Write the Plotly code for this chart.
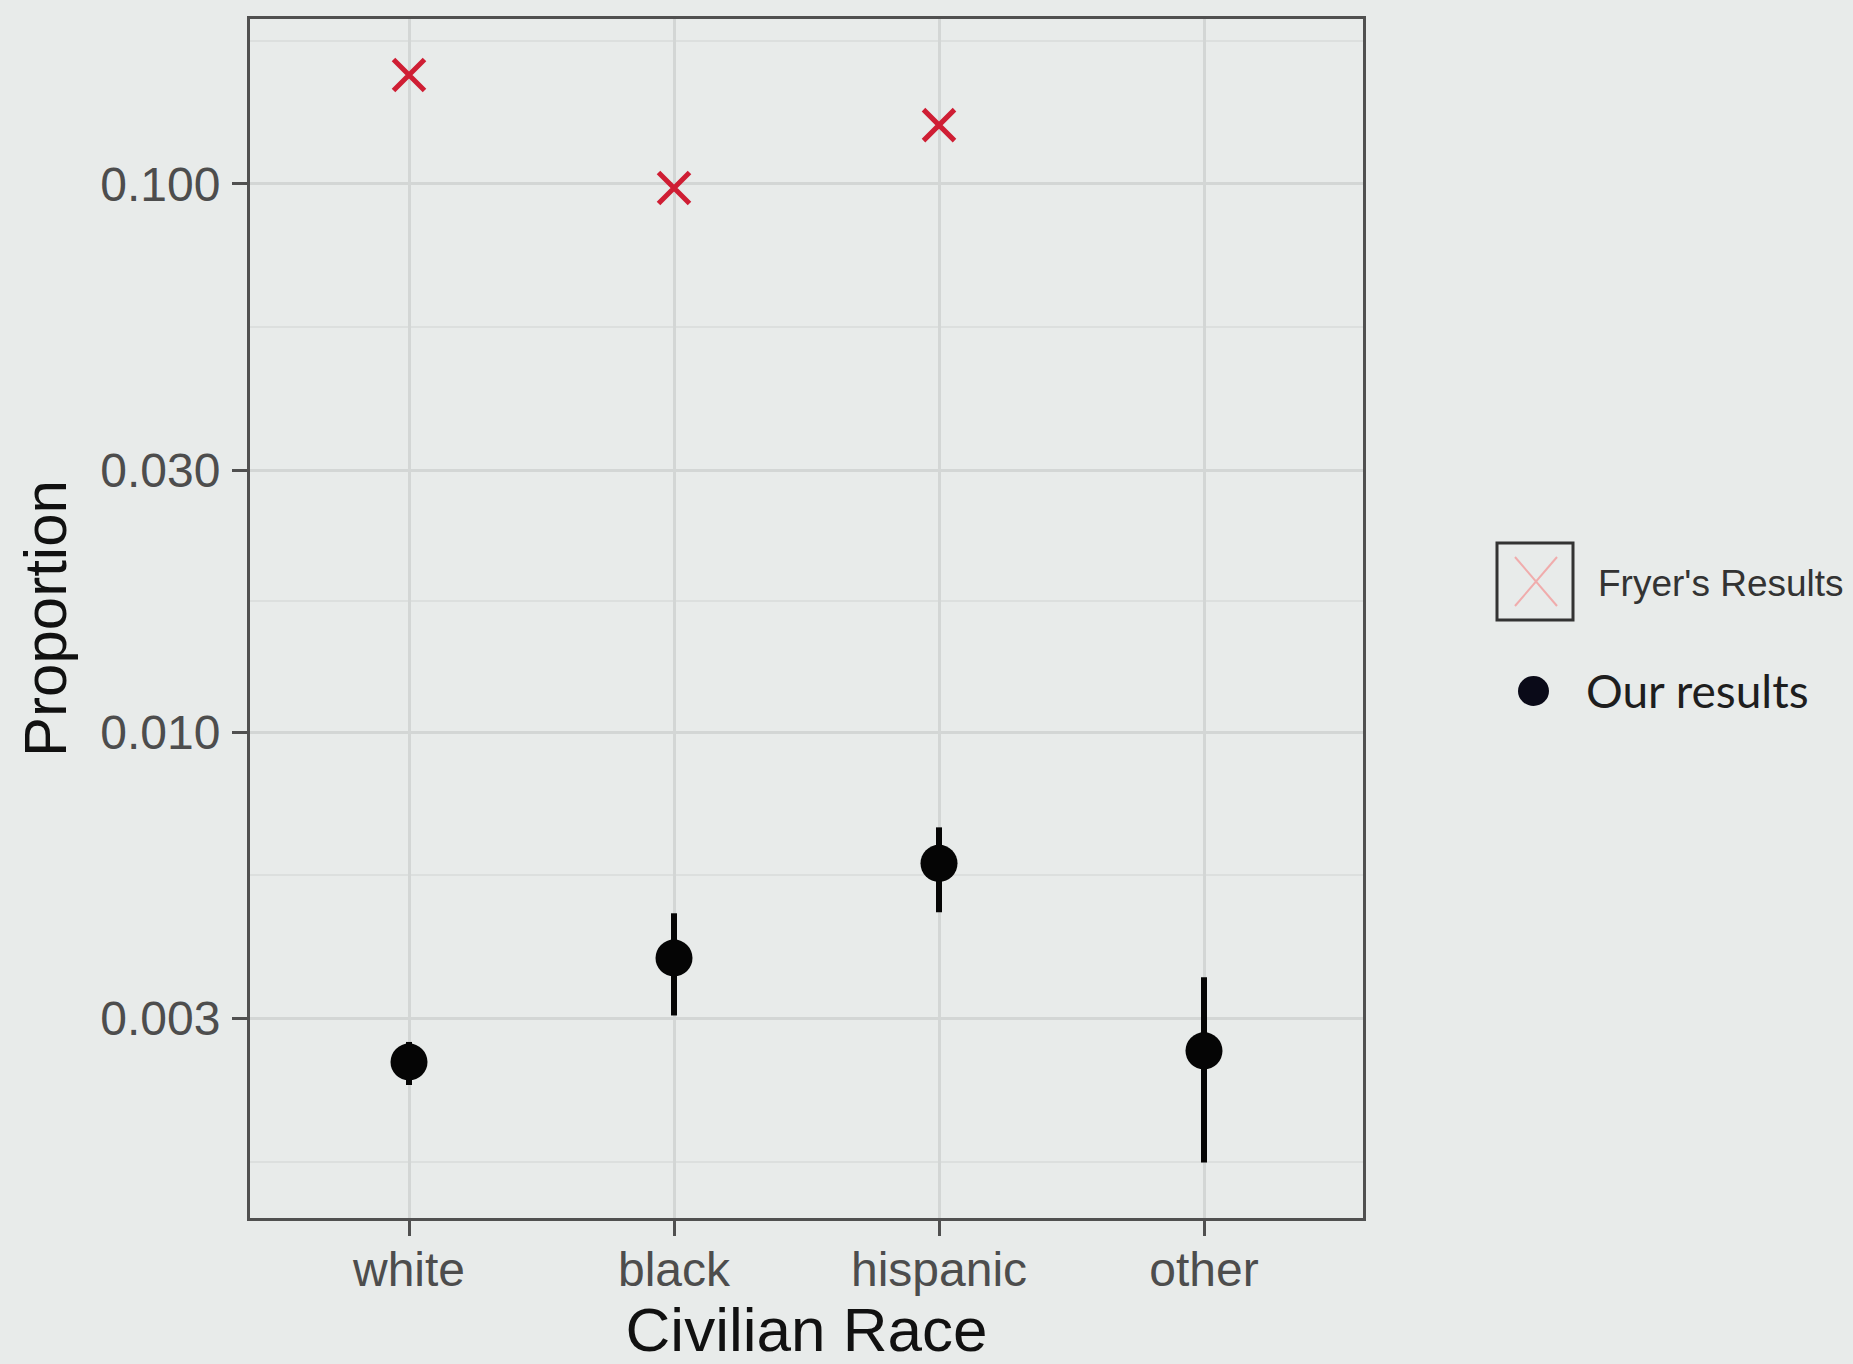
import plotly.graph_objects as go

# ---- data ----
categories = ["white", "black", "hispanic", "other"]
fryer_categories = ["white", "black", "hispanic"]
fryer_values = [0.158, 0.0983, 0.128]
our_values = [0.00250, 0.00387, 0.00576, 0.00262]
our_upper = [0.00272, 0.00467, 0.00670, 0.00357]
our_lower = [0.00227, 0.00304, 0.00469, 0.00164]
y_tickvals = [0.003, 0.01, 0.03, 0.1]
y_ticktext = ["0.003", "0.010", "0.030", "0.100"]
y_minor_vals = [0.001643, 0.005477, 0.01732, 0.05477, 0.1826]

W, H = 1853, 1364
L, R, T, B = 250, 1363, 19, 1218  # plot area in pixels
BG = "#E8EBEA"
GRID = "#D3D6D5"
GRID_MINOR = "#DCDFDE"
AXIS = "#505050"


def px(x):
    return (x - L) / (R - L)


def py(y):
    return (B - y) / (B - T)


err_plus = [u - v for u, v in zip(our_upper, our_values)]
err_minus = [v - l for v, l in zip(our_values, our_lower)]

fig = go.Figure()
fig.add_trace(go.Scatter(
    x=categories, y=our_values, mode="markers", name="Our results",
    marker=dict(symbol="circle", size=37, color="#050505"),
    error_y=dict(type="data", array=err_plus, arrayminus=err_minus,
                 symmetric=False, thickness=6, width=0, color="#050505"),
    showlegend=False,
))
fig.add_trace(go.Scatter(
    x=fryer_categories, y=fryer_values, mode="markers", name="Fryer's Results",
    marker=dict(symbol="x-thin", size=31, line=dict(width=5, color="#CF1E34")),
    showlegend=False,
))

fig.update_layout(
    width=W, height=H,
    margin=dict(l=L, r=W - R, t=T, b=H - B, pad=0, autoexpand=False),
    paper_bgcolor=BG, plot_bgcolor=BG,
    font=dict(family="Liberation Sans, Arial, sans-serif", color="#4D4D4D"),
    showlegend=False,
)
fig.update_xaxes(
    type="category", categoryorder="array", categoryarray=categories,
    range=[-0.6, 3.6], automargin=False,
    showgrid=True, gridcolor=GRID, gridwidth=3,
    showline=True, mirror=True, linecolor=AXIS, linewidth=3,
    ticks="outside", ticklen=15, tickwidth=3, tickcolor=AXIS,
    tickfont=dict(size=48, color="#4D4D4D"), ticklabelstandoff=-8,
    title=dict(text="Civilian Race", font=dict(size=62, color="#111111"), standoff=28),
    zeroline=False,
)
fig.update_yaxes(
    type="log", range=[-2.8866, -0.6992], automargin=False,
    tickmode="array", tickvals=y_tickvals, ticktext=y_ticktext,
    showgrid=True, gridcolor=GRID, gridwidth=3,
    minor=dict(tickmode="array", tickvals=y_minor_vals, showgrid=True,
               gridcolor=GRID_MINOR, gridwidth=2, ticks=""),
    showline=True, mirror=True, linecolor=AXIS, linewidth=3,
    ticks="outside", ticklen=15, tickwidth=3, tickcolor=AXIS,
    tickfont=dict(size=48, color="#4D4D4D"), ticklabelstandoff=2,
    title=dict(text="Proportion", font=dict(size=60, color="#111111"), standoff=15),
    zeroline=False,
)

# ---- manual legend ----
fig.add_shape(type="rect", xref="paper", yref="paper",
              x0=px(1497), x1=px(1573), y0=py(620), y1=py(543),
              line=dict(color="#333333", width=3), fillcolor="rgba(0,0,0,0)")
fig.add_shape(type="line", xref="paper", yref="paper",
              x0=px(1515), x1=px(1557), y0=py(557), y1=py(606),
              line=dict(color="#F0ACAC", width=2))
fig.add_shape(type="line", xref="paper", yref="paper",
              x0=px(1515), x1=px(1557), y0=py(606), y1=py(557),
              line=dict(color="#F0ACAC", width=2))
fig.add_shape(type="circle", xref="paper", yref="paper",
              x0=px(1518), x1=px(1549), y0=py(706), y1=py(676),
              line=dict(color="#0A0A18", width=0), fillcolor="#0A0A18")
fig.add_annotation(text="Fryer's Results", xref="paper", yref="paper",
                   x=px(1596), y=py(583), xanchor="left", yanchor="middle",
                   showarrow=False,
                   font=dict(family="Liberation Sans, Arial, sans-serif", size=37, color="#333333"))
fig.add_annotation(text="Our results", xref="paper", yref="paper",
                   x=px(1584), y=py(690), xanchor="left", yanchor="middle",
                   showarrow=False,
                   font=dict(family="Lato, sans-serif", size=46, color="#1E1E1E"))

fig.write_html(
    "out.html",
    config={"displayModeBar": False},
    post_script="document.body.style.margin='0';document.body.style.background='%s';" % BG,
)
